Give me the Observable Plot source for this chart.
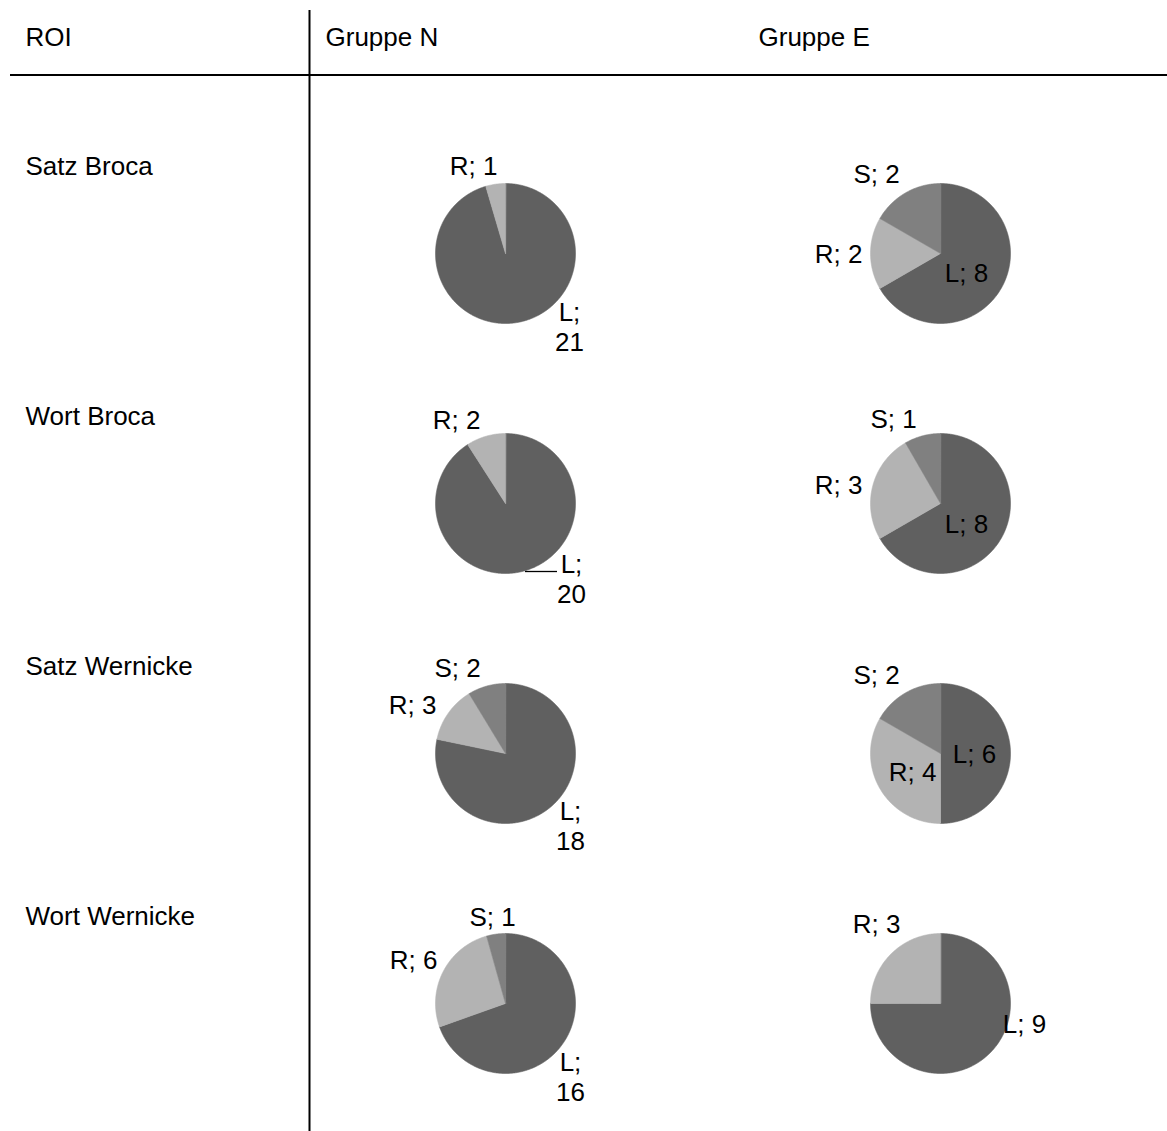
<!DOCTYPE html>
<html>
<head>
<meta charset="utf-8">
<script src="https://cdn.jsdelivr.net/npm/d3@7"></script>
<script src="https://cdn.jsdelivr.net/npm/@observablehq/plot@0.6"></script>
<style>
  html, body { margin: 0; padding: 0; background: #fff; }
  #chart svg { display: block; }
</style>
</head>
<body>
<div id="chart"></div>
<script>
// ---------- data ----------
const rois = ["Satz Broca", "Wort Broca", "Satz Wernicke", "Wort Wernicke"];
const groups = ["Gruppe N", "Gruppe E"];
const headerRoi = "ROI";
const categories = ["L", "R", "S"];
// Gruppe N counts per ROI
const nL = [21, 20, 18, 16];
const nR = [1, 2, 3, 6];
const nS = [0, 0, 2, 1];
// Gruppe E counts per ROI
const eL = [8, 8, 6, 9];
const eR = [2, 3, 4, 3];
const eS = [2, 1, 2, 0];

// ---------- layout (not data) ----------
const W = 1167, H = 1131;
const font = "'Liberation Sans', Arial, Helvetica, sans-serif";
const fs = 26;
const radius = 70;
const colCenters = [505, 940];
const rowCenter = i => 253 + 250 * i;
const rowLabelY = i => 166 + 250 * i;
const colors = {L: "#606060", R: "#b3b3b3", S: "#808080"};
// label offsets from each pie centre (Excel's manual placement)
const labelOffsets = {
  "0-0": {R: [-32, -88], L: [64, 73]},
  "0-1": {R: [-49, -84], L: [66, 75]},
  "0-2": {S: [-48, -86], R: [-93, -49], L: [65, 72]},
  "0-3": {S: [-13, -87], R: [-92, -44], L: [65, 73]},
  "1-0": {S: [-64, -80], R: [-102, 0], L: [26, 19]},
  "1-1": {S: [-47, -85], R: [-102, -19], L: [26, 20]},
  "1-2": {S: [-64, -79], R: [-28, 18], L: [34, 0]},
  "1-3": {R: [-64, -80], L: [84, 20]}
};
const twoLine = g => g === 0; // Gruppe N "L" labels wrap
const leaders = [{g: 0, r: 1, x1: 20, x2: 52, dy: 68}];

// ---------- build tables ----------
const series = [[nL, nR, nS], [eL, eR, eS]];
const pie = d3.pie().sort(null).value(d => d.value).startAngle(0).endAngle(2 * Math.PI);

const slicePts = [];
const labels = [];
groups.forEach((gName, g) => {
  rois.forEach((roi, r) => {
    const vals = categories.map((c, k) => ({cat: c, value: series[g][k][r]})).filter(d => d.value > 0);
    const cx = colCenters[g], cy = rowCenter(r);
    pie(vals).forEach(arc => {
      const id = `${g}-${r}-${arc.data.cat}`;
      const a0 = arc.startAngle, a1 = arc.endAngle;
      const n = Math.max(2, Math.ceil((a1 - a0) / (Math.PI / 360)));
      const full = (a1 - a0) >= 2 * Math.PI - 1e-9;
      if (!full) slicePts.push({id, cat: arc.data.cat, x: cx, y: cy});
      for (let i = 0; i <= n; i++) {
        const a = a0 + (a1 - a0) * i / n;
        slicePts.push({id, cat: arc.data.cat, x: cx + radius * Math.sin(a), y: cy - radius * Math.cos(a)});
      }
      const off = labelOffsets[`${g}-${r}`][arc.data.cat];
      const sep = (twoLine(g) && arc.data.cat === "L") ? ";\n" : "; ";
      labels.push({text: `${arc.data.cat}${sep}${arc.data.value}`, x: cx + off[0], y: cy + off[1]});
    });
  });
});

const headerTexts = [
  {text: headerRoi, x: 25, y: 37},
  {text: groups[0], x: 325, y: 37},
  {text: groups[1], x: 758, y: 37}
];
const rowTexts = rois.map((t, i) => ({text: t, x: 25, y: rowLabelY(i)}));
const leaderSegs = leaders.map(d => ({x1: colCenters[d.g] + d.x1, x2: colCenters[d.g] + d.x2, y: rowCenter(d.r) + d.dy}));

const chart = Plot.plot({
  width: W,
  height: H,
  margin: 0,
  x: {domain: [0, W], range: [0, W], axis: null},
  y: {domain: [0, H], range: [0, H], axis: null},
  color: {domain: categories, range: categories.map(c => colors[c])},
  style: {fontFamily: font, fontSize: fs + "px", background: "#fff", color: "#000"},
  marks: [
    Plot.line(slicePts, {x: "x", y: "y", z: "id", fill: "cat", stroke: "cat", strokeWidth: 0.6, curve: "linear-closed"}),
    Plot.ruleY(leaderSegs, {y: "y", x1: "x1", x2: "x2", stroke: "#000", strokeWidth: 1.3}),
    Plot.ruleY([74.5], {x1: 10, x2: W, stroke: "#000", strokeWidth: 2}),
    Plot.ruleX([309], {y1: 10, y2: H, stroke: "#000", strokeWidth: 2}),
    Plot.text(headerTexts, {x: "x", y: "y", text: "text", textAnchor: "start", fontSize: fs, fill: "#000"}),
    Plot.text(rowTexts, {x: "x", y: "y", text: "text", textAnchor: "start", fontSize: fs, fill: "#000"}),
    Plot.text(labels, {x: "x", y: "y", text: "text", textAnchor: "middle", lineAnchor: "middle", lineHeight: 1.15, fontSize: fs, fill: "#000"})
  ]
});
document.getElementById("chart").appendChild(chart);
</script>
</body>
</html>
